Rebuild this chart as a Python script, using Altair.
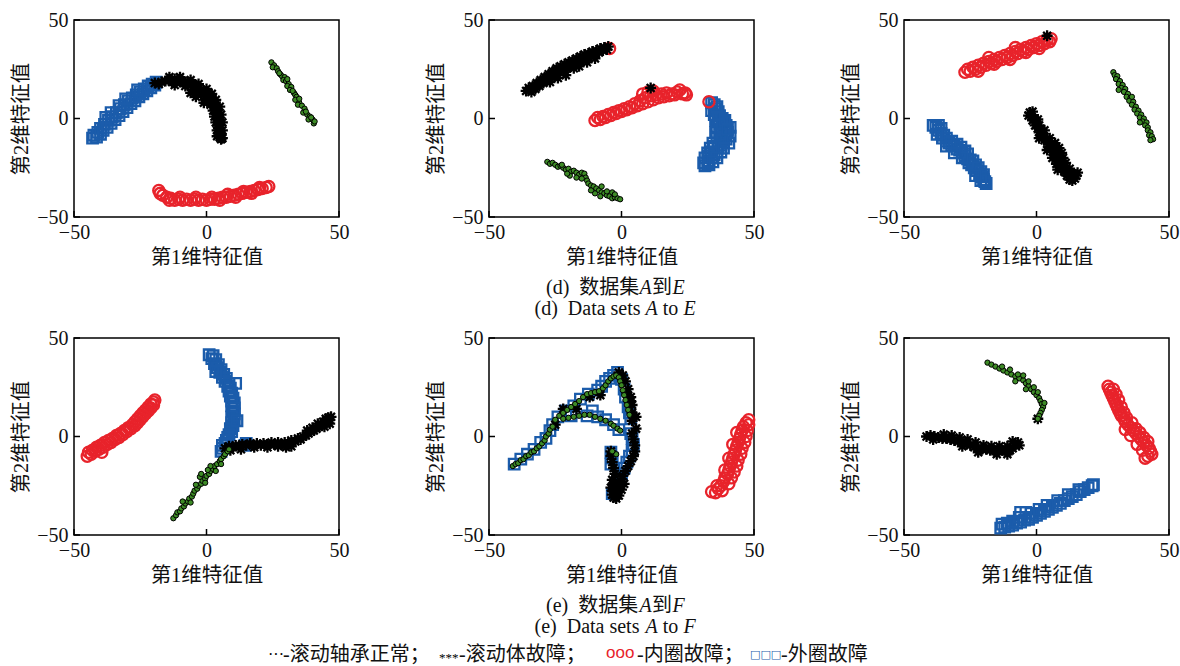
import altair as alt
import pandas as pd

TICKS = [-50, 0, 50]
XTITLE = "第1维特征值"
YTITLE = "第2维特征值"

CAP_D_ZH = ["(d)\u00a0\u00a0数据集", "A", "到", "E"]
CAP_D_EN = ["(d)\u00a0\u00a0Data sets", "A", "to", "E"]
CAP_E_ZH = ["(e)\u00a0\u00a0数据集", "A", "到", "F"]
CAP_E_EN = ["(e)\u00a0\u00a0Data sets", "A", "to", "F"]
LEGEND_SYMBOLS = ["···", "***", "ooo", "□□□"]
LEGEND_TEXTS = ["-滚动轴承正常；", "-滚动体故障；", "-内圈故障；", "-外圈故障"]

# ---- panel 1 (row d, left)
P1_NORMAL = [(24.5,28.5),(25.5,27.0),(25.0,26.0),(26.5,25.5),(27.0,24.0),(27.8,22.5),(28.5,21.5),(29.5,21.0),(29.0,19.5),(30.0,19.0),(31.0,17.5),(30.5,16.5),(32.0,16.0),(31.5,14.5),(33.0,13.0),(33.5,12.0),(34.0,11.0),(33.5,9.5),(35.0,8.0),(34.5,7.0),(36.0,6.5),(37.0,5.0),(36.5,3.0),(38.0,2.0),(39.0,1.0),(38.5,-0.5),(40.0,-0.5),(40.5,-2.5),(39.5,0.5),(35.0,10.0),(30.5,20.0),(27.5,23.0),(32.5,14.0),(37.5,3.5),(40.8,-1.5)]
P1_ROLL = [(-19.5,18.0),(-18.0,17.5),(-17.0,18.5),(-15.5,19.0),(-14.0,19.5),(-13.0,18.5),(-12.0,20.0),(-11.0,19.5),(-10.0,18.5),(-9.0,19.0),(-8.0,18.0),(-7.0,18.5),(-6.0,17.0),(-5.0,17.5),(-4.0,16.0),(-3.0,15.5),(-2.0,14.5),(-1.0,14.0),(0.0,12.5),(0.5,12.0),(1.5,10.5),(2.0,9.5),(2.5,8.0),(3.0,7.0),(3.5,5.5),(4.0,4.0),(4.0,2.5),(4.5,1.0),(4.5,-0.5),(5.0,-2.0),(5.0,-3.5),(4.5,-5.0),(5.0,-6.5),(5.5,-8.0),(5.0,-9.5),(5.5,-10.5),(4.0,-9.0),(4.0,-6.0),(3.5,-2.0),(3.0,1.0),(2.5,4.0),(1.5,7.0),(0.0,10.0),(-2.0,12.0),(-5.0,14.5),(-8.0,16.5),(-12.0,17.0),(-14.0,21.0),(-10.0,21.0),(-6.0,19.5),(-3.0,17.5),(0.0,15.0),(2.0,12.5),(3.5,9.5),(5.0,6.0),(5.5,2.0),(6.0,-2.0),(6.0,-6.0),(6.0,-10.0),(-6.0,13.0),(-4.0,11.0),(-1.0,8.0)]
P1_INNER = [(-18.0,-36.5),(-17.5,-38.0),(-16.5,-39.0),(-15.0,-40.0),(-13.5,-40.5),(-12.0,-41.5),(-10.5,-41.0),(-9.0,-41.5),(-7.5,-41.0),(-6.0,-41.5),(-4.5,-41.0),(-3.0,-41.5),(-1.5,-41.0),(0.0,-41.5),(1.5,-41.0),(3.0,-41.0),(4.5,-40.5),(6.0,-40.0),(7.5,-40.0),(9.0,-39.5),(10.5,-39.0),(12.0,-38.5),(13.5,-38.0),(15.0,-37.5),(16.5,-37.0),(18.0,-36.5),(19.5,-36.0),(21.0,-35.5),(22.5,-35.0),(23.5,-34.5),(-10.0,-40.0),(-4.0,-40.0),(2.0,-40.0),(8.0,-38.5),(14.0,-37.0),(20.0,-35.0),(-14.0,-41.5),(5.0,-41.5),(11.0,-40.0),(17.0,-38.0)]
P1_OUTER = [(-43.0,-10.0),(-42.5,-8.5),(-41.5,-9.5),(-41.0,-7.0),(-40.0,-8.0),(-40.0,-5.0),(-39.0,-6.0),(-38.5,-3.0),(-37.5,-4.5),(-37.0,-1.0),(-36.0,-2.5),(-35.5,1.0),(-34.5,-0.5),(-34.0,3.0),(-33.0,1.5),(-32.5,5.0),(-31.5,3.5),(-31.0,7.0),(-30.0,5.5),(-29.5,9.0),(-28.5,7.5),(-28.0,10.5),(-27.0,9.0),(-26.5,12.0),(-25.5,11.0),(-25.0,13.5),(-24.0,12.5),(-23.5,15.0),(-22.5,14.0),(-22.0,16.5),(-21.0,15.5),(-20.5,17.5),(-19.5,17.0),(-19.0,18.5),(-36.0,3.0),(-33.0,6.5),(-30.5,10.0),(-26.0,14.5),(-38.0,0.5)]

# ---- panel 2 (row d, middle)
P2_NORMAL = [(-28.0,-22.0),(-27.0,-23.0),(-26.0,-22.5),(-25.0,-23.5),(-24.0,-24.5),(-23.0,-24.0),(-22.0,-25.0),(-21.0,-26.0),(-20.0,-25.5),(-19.0,-27.0),(-18.0,-26.5),(-17.0,-27.5),(-16.0,-28.5),(-15.0,-27.5),(-14.0,-28.0),(-13.5,-30.0),(-13.0,-31.5),(-12.5,-33.0),(-11.5,-34.0),(-10.5,-34.5),(-9.5,-35.5),(-8.5,-36.5),(-7.5,-37.5),(-6.5,-38.0),(-5.5,-39.0),(-4.5,-39.5),(-3.5,-40.5),(-2.5,-40.0),(-1.5,-40.5),(-0.5,-41.0),(-19.5,-29.0),(-17.0,-30.0),(-15.0,-30.5),(-10.0,-38.0),(-8.0,-39.5),(-5.5,-37.0),(-3.5,-37.5),(-7.5,-34.5),(-22.5,-23.5),(-20.5,-28.0),(-11.5,-36.5),(-2.5,-38.5)]
P2_ROLL = [(-36.0,14.0),(-35.0,15.5),(-34.0,13.5),(-33.5,16.5),(-32.5,15.0),(-32.0,18.0),(-31.0,16.5),(-30.5,19.5),(-29.5,18.0),(-29.0,21.0),(-28.0,19.5),(-27.5,22.5),(-26.5,21.0),(-26.0,24.0),(-25.0,22.0),(-24.5,25.5),(-23.5,23.5),(-23.0,26.5),(-22.0,24.5),(-21.5,27.5),(-20.5,25.5),(-20.0,28.5),(-19.0,27.0),(-18.5,29.5),(-17.5,28.0),(-17.0,30.5),(-16.0,29.0),(-15.5,31.5),(-14.5,30.0),(-14.0,32.5),(-13.0,31.0),(-12.5,33.0),(-11.5,32.0),(-11.0,34.0),(-10.0,32.5),(-9.5,34.5),(-8.5,33.5),(-8.0,35.5),(-7.0,34.5),(-6.5,36.0),(-5.5,35.0),(-5.0,36.5),(-24.0,20.5),(-18.0,25.5),(-13.0,28.5),(-21.0,22.0),(-16.0,26.5),(-10.0,30.5),(-27.0,18.5),(11.0,15.5)]
P2_INNER = [(-10.0,-1.0),(-9.0,0.5),(-8.0,-0.5),(-7.0,1.0),(-6.0,0.5),(-5.0,2.0),(-4.0,1.5),(-3.0,3.0),(-2.0,2.5),(-1.0,4.0),(0.0,3.5),(1.0,5.0),(2.0,4.5),(3.0,6.0),(4.0,5.5),(5.0,7.5),(6.0,6.5),(7.0,9.0),(8.0,7.5),(9.0,10.5),(10.0,8.5),(11.0,11.5),(12.0,9.5),(13.0,12.0),(14.0,10.5),(15.0,12.5),(16.0,11.0),(17.0,13.0),(18.0,11.5),(19.0,12.5),(20.0,12.0),(21.0,13.5),(22.0,14.5),(23.0,12.5),(24.0,13.0),(24.5,12.0),(8.0,12.5),(10.0,13.5),(12.0,14.0),(-4.5,35.5),(33.0,8.5)]
P2_OUTER = [(34.0,8.0),(35.0,7.0),(35.5,5.0),(36.5,3.5),(37.0,1.5),(38.0,0.0),(38.5,-2.0),(39.5,-3.5),(39.0,-5.5),(40.0,-7.0),(39.0,-8.5),(39.5,-10.5),(38.5,-12.0),(37.5,-13.5),(36.5,-15.0),(36.0,-17.0),(35.0,-18.5),(34.0,-20.0),(33.0,-21.5),(32.5,-23.0),(31.5,-24.0),(35.5,-1.0),(36.0,-4.0),(35.5,-7.0),(36.0,-10.0),(34.5,-12.5),(33.5,-15.0),(32.5,-17.5),(31.5,-20.0),(31.0,-22.5),(37.5,-6.0),(37.0,-9.5),(38.0,-3.0),(34.0,4.0),(41.0,-4.5),(41.0,-9.0),(40.5,-12.5),(37.5,-17.0),(36.5,0.0),(37.0,-3.0),(37.5,-8.0),(38.0,-11.0),(35.0,-14.0),(34.0,-17.0),(33.0,-19.0),(39.0,-1.0),(40.0,-5.5),(38.5,-15.0),(36.0,-20.0),(33.0,-23.5),(34.5,-22.0),(35.0,2.0),(36.0,6.0)]

# ---- panel 3 (row d, right)
P3_NORMAL = [(29.0,23.5),(29.5,22.0),(30.5,21.5),(30.0,20.0),(31.5,19.0),(31.0,17.5),(32.5,17.0),(32.0,15.5),(33.5,15.0),(33.0,13.5),(34.5,12.5),(34.0,11.0),(35.5,10.5),(35.0,9.0),(36.5,8.5),(36.0,7.0),(37.5,6.0),(37.0,4.5),(38.5,4.0),(38.0,2.5),(39.5,2.0),(39.0,0.5),(40.5,0.0),(40.0,-1.5),(41.5,-2.0),(41.0,-3.5),(42.0,-4.5),(42.0,-6.0),(43.0,-7.0),(42.5,-8.5),(43.5,-9.0),(44.0,-10.5),(43.0,-11.0),(31.0,14.5),(36.0,11.0),(39.0,-2.0)]
P3_ROLL = [(4.0,42.0),(-2.5,3.0),(-1.5,3.5),(-3.0,1.5),(-2.0,1.0),(-1.0,0.0),(-1.5,-1.0),(0.0,-2.0),(-0.5,-3.5),(1.0,-3.5),(0.5,-5.0),(1.5,-5.5),(1.0,-7.0),(2.0,-7.5),(2.0,-9.0),(3.0,-9.5),(3.0,-11.0),(4.0,-11.5),(4.5,-13.0),(5.5,-13.5),(5.5,-15.0),(6.5,-15.5),(6.5,-17.0),(7.5,-17.5),(7.5,-19.0),(8.5,-19.5),(8.0,-21.0),(9.0,-21.5),(8.5,-23.0),(9.5,-23.5),(9.5,-25.0),(10.5,-25.5),(10.5,-27.0),(11.5,-27.5),(11.5,-29.0),(12.5,-29.5),(12.5,-31.0),(13.5,-31.5),(14.5,-30.5),(15.0,-29.0),(15.5,-27.5),(14.0,-28.0),(0.5,-0.5),(3.0,-6.0),(5.0,-10.0),(7.0,-12.5),(8.5,-15.0),(9.5,-17.5),(10.0,-20.0),(11.0,-22.5),(12.5,-25.5),(13.5,-28.0),(1.0,-10.0),(4.0,-16.0),(6.0,-20.0),(7.5,-23.0),(8.0,-26.0)]
P3_INNER = [(-27.0,23.5),(-26.0,25.0),(-25.0,24.0),(-24.0,26.0),(-23.0,25.0),(-22.0,27.0),(-21.0,26.0),(-20.0,28.0),(-19.0,27.0),(-18.0,29.0),(-17.0,28.0),(-16.0,30.0),(-15.0,29.0),(-14.0,31.0),(-13.0,30.0),(-12.0,32.0),(-11.0,31.0),(-10.0,33.0),(-9.0,32.0),(-8.0,34.0),(-7.0,33.0),(-6.0,35.0),(-5.0,34.0),(-4.0,36.0),(-3.0,35.0),(-2.0,37.0),(-1.0,36.0),(0.0,38.0),(1.0,37.0),(2.0,39.0),(3.0,38.0),(4.0,40.0),(5.0,39.0),(5.5,40.5),(-22.0,24.0),(-16.0,27.5),(-10.0,30.0),(-4.0,33.5),(1.0,35.5),(-18.0,31.0),(-8.0,36.0)]
P3_OUTER = [(-39.0,-3.5),(-38.0,-4.5),(-37.0,-3.5),(-37.0,-6.0),(-36.0,-5.0),(-36.0,-7.5),(-35.0,-8.5),(-35.5,-10.0),(-34.0,-10.0),(-34.0,-11.5),(-33.0,-12.5),(-32.0,-11.5),(-32.0,-13.5),(-31.0,-14.0),(-30.0,-13.0),(-30.0,-15.5),(-29.0,-16.0),(-28.5,-14.5),(-28.0,-17.5),(-27.0,-16.5),(-27.0,-19.0),(-26.0,-18.0),(-26.0,-20.5),(-25.0,-21.0),(-25.5,-22.5),(-24.5,-23.5),(-24.0,-21.5),(-23.5,-25.0),(-23.0,-23.5),(-22.5,-26.5),(-22.0,-25.0),(-21.5,-28.0),(-21.0,-27.0),(-20.5,-29.5),(-20.0,-28.5),(-20.0,-31.0),(-19.5,-32.0),(-19.0,-33.0),(-21.0,-31.5),(-23.0,-29.0),(-28.0,-20.0),(-31.0,-17.5),(-34.0,-14.0),(-37.5,-8.0)]

# ---- panel 4 (row e, left)
P4_NORMAL = [(-12.5,-41.5),(-11.5,-40.0),(-11.0,-38.5),(-10.0,-38.0),(-9.5,-36.5),(-8.5,-35.5),(-8.0,-34.0),(-7.0,-33.0),(-6.5,-31.5),(-5.5,-30.5),(-5.0,-29.0),(-4.5,-27.5),(-3.5,-26.5),(-3.0,-25.0),(-2.0,-24.0),(-1.5,-22.5),(-0.5,-21.5),(0.0,-20.0),(1.0,-19.0),(1.5,-17.5),(2.5,-16.5),(3.0,-15.0),(4.0,-14.0),(5.0,-12.5),(5.5,-11.5),(6.5,-10.0),(7.0,-9.0),(8.0,-7.5),(8.5,-6.5),(-9.0,-33.0),(-6.0,-33.5),(-4.0,-24.5),(-2.5,-20.5),(-0.5,-23.5),(1.5,-15.0),(3.5,-17.5),(5.5,-14.0),(-2.0,-19.0),(0.5,-17.0)]
P4_ROLL = [(7.0,-6.0),(8.5,-5.0),(10.0,-5.5),(11.0,-4.5),(12.5,-5.0),(13.5,-4.0),(15.0,-4.5),(16.5,-3.5),(17.5,-4.5),(19.0,-3.5),(20.5,-4.5),(21.5,-3.5),(23.0,-4.0),(24.5,-3.0),(25.5,-4.0),(27.0,-3.0),(28.5,-4.0),(29.5,-3.0),(31.0,-3.5),(32.0,-2.0),(33.5,-2.5),(34.5,-1.0),(35.5,-1.5),(36.5,0.0),(37.5,0.5),(38.5,1.5),(39.5,2.5),(40.5,3.0),(41.5,4.0),(42.5,5.0),(43.5,6.0),(44.5,7.0),(45.5,7.5),(46.5,8.5),(47.0,10.0),(46.0,9.5),(45.0,9.0),(44.0,7.5),(42.0,6.5),(40.0,4.5),(38.0,3.0),(32.0,-5.0),(30.0,-5.5),(27.0,-5.0),(23.0,-5.5),(18.0,-5.5),(13.0,-6.5),(9.0,-7.0),(46.5,6.5),(44.5,5.0)]
P4_INNER = [(-45.0,-10.0),(-44.5,-8.0),(-43.5,-9.0),(-43.0,-7.0),(-42.0,-7.5),(-41.5,-5.5),(-40.5,-6.5),(-40.0,-4.5),(-39.0,-5.5),(-38.5,-3.0),(-37.5,-4.0),(-37.0,-2.0),(-36.0,-3.0),(-35.5,-1.0),(-34.5,-1.5),(-34.0,0.5),(-33.0,-0.5),(-32.5,1.5),(-31.5,1.0),(-31.0,3.0),(-30.0,2.5),(-29.5,4.5),(-28.5,4.0),(-28.0,6.0),(-27.0,5.5),(-27.0,7.5),(-26.0,7.0),(-26.0,9.0),(-25.0,8.5),(-25.0,10.5),(-24.0,10.0),(-24.0,12.0),(-23.0,11.5),(-23.0,13.5),(-22.0,13.0),(-22.0,15.0),(-21.0,14.5),(-21.0,16.5),(-20.0,16.0),(-20.0,17.5),(-19.5,18.5),(-39.5,-8.0)]
P4_OUTER = [(1.0,41.5),(2.5,41.0),(2.0,39.5),(3.5,39.0),(3.0,37.0),(4.5,36.5),(4.0,35.0),(5.5,34.0),(5.0,32.5),(6.5,31.5),(6.0,30.0),(7.5,29.5),(7.0,28.0),(8.5,27.0),(8.0,25.5),(9.0,24.5),(8.5,23.0),(9.5,22.0),(9.0,20.5),(10.0,19.5),(9.5,18.0),(10.5,17.0),(9.5,15.5),(10.5,14.5),(10.0,13.0),(10.5,11.5),(9.5,10.0),(10.5,8.5),(9.5,7.0),(10.0,5.5),(9.0,4.0),(9.5,2.5),(8.5,1.0),(8.0,-0.5),(7.5,-2.0),(7.0,-3.5),(6.0,-4.5),(6.0,-6.0),(5.5,-7.5),(11.0,27.0),(11.5,8.0),(3.5,33.0),(15.0,-3.5),(14.5,-4.5)]

# ---- panel 5 (row e, middle)
P5_NORMAL = [(-41.0,-15.0),(-40.0,-14.0),(-39.0,-13.5),(-38.0,-12.0),(-37.0,-11.5),(-36.0,-10.0),(-35.0,-9.5),(-34.0,-8.0),(-33.0,-7.5),(-32.0,-6.0),(-31.0,-5.0),(-30.0,-3.5),(-29.0,-2.0),(-28.5,0.0),(-27.5,1.5),(-27.0,3.5),(-26.0,5.0),(-25.0,8.5),(-23.5,10.5),(-22.0,12.0),(-20.5,13.5),(-19.0,15.0),(-17.5,16.5),(-16.0,18.0),(-14.5,20.0),(-13.0,21.5),(-11.5,22.0),(-10.0,22.5),(-8.5,23.0),(-7.0,24.5),(-6.0,26.0),(-5.0,28.0),(-4.0,29.5),(-3.0,30.5),(-2.0,31.0),(-1.0,30.0),(-0.5,28.0),(0.0,26.0),(0.5,23.5),(1.0,21.0),(1.5,18.5),(2.0,16.0),(2.5,13.5),(3.0,11.0),(-22.0,9.0),(-20.0,9.5),(-18.0,10.0),(-16.0,10.5),(-14.0,11.0),(-12.0,11.0),(-10.0,10.0),(-8.0,9.0),(-6.0,8.0),(-4.0,6.5),(-3.0,5.5),(-1.5,4.0),(-0.5,3.0),(-2.0,-9.0),(-3.5,-7.5)]
P5_ROLL = [(-1.0,32.5),(0.5,31.0),(1.5,28.0),(2.5,24.0),(3.5,20.0),(4.0,16.0),(4.0,12.0),(4.0,8.0),(3.5,18.0),(2.0,22.0),(4.0,1.5),(4.5,-1.5),(5.0,-4.5),(5.0,-7.5),(4.5,-10.0),(3.5,-12.5),(2.5,-15.0),(1.5,-17.5),(0.5,-20.0),(-0.5,-22.5),(-1.5,-25.0),(-2.5,-27.5),(-3.5,-29.5),(-3.0,-31.0),(-2.0,-31.5),(-1.0,-30.0),(0.0,-27.0),(1.0,-24.0),(-4.0,-7.5),(-4.0,-10.0),(-3.5,-13.0),(-3.0,-16.0),(-2.5,-19.0),(-3.5,-22.0),(-4.0,-26.0),(-2.0,-28.5),(-1.0,-26.5),(-3.0,-24.5),(-8.0,21.0),(-12.0,20.0),(-17.0,14.0),(-25.0,6.0),(-22.0,14.0),(5.5,10.0),(5.5,4.0)]
P5_INNER = [(34.0,-28.0),(35.5,-28.5),(36.5,-26.5),(37.5,-25.0),(38.5,-23.0),(39.0,-21.0),(40.0,-19.0),(40.5,-17.0),(41.0,-15.0),(41.5,-13.0),(42.0,-11.0),(42.5,-9.0),(43.0,-7.0),(43.5,-5.0),(44.0,-3.0),(44.5,-1.0),(45.0,1.0),(45.5,3.0),(46.0,5.0),(47.0,7.0),(48.0,8.5),(48.0,6.0),(47.5,3.0),(47.0,0.0),(46.5,-3.0),(45.5,-6.0),(45.0,-9.0),(44.0,-12.0),(43.5,-15.0),(42.5,-18.0),(41.5,-21.0),(40.5,-24.0),(38.0,-27.5),(36.0,-25.0),(39.0,-17.0),(40.5,-11.0),(42.0,-4.0),(43.5,2.0)]
P5_OUTER = [(-40.5,-14.0),(-38.0,-11.5),(-35.5,-9.0),(-33.0,-6.5),(-30.5,-3.0),(-28.5,-1.0),(-27.0,3.0),(-26.0,6.0),(-24.0,10.0),(-21.0,13.0),(-18.0,15.5),(-15.5,19.0),(-12.5,21.5),(-9.0,23.5),(-7.5,25.5),(-6.0,28.0),(-4.5,29.5),(-3.0,31.0),(-1.5,32.5),(0.0,29.0),(1.0,24.0),(1.5,20.0),(2.5,15.0),(3.0,12.0),(3.5,9.0),(-13.0,10.5),(-11.0,13.0),(-9.0,10.0),(-6.0,8.5),(-3.0,6.0),(-1.0,3.5),(-19.0,10.5),(3.5,1.5),(4.0,-1.0),(4.5,-4.0),(4.0,-7.0),(3.0,-10.0),(2.0,-13.0),(1.0,-16.0),(0.0,-19.0),(-1.0,-22.0),(-2.5,-27.0),(-3.5,-29.0),(-4.0,-14.0),(-4.0,-8.0),(-3.5,-11.0)]

# ---- panel 6 (row e, right)
P6_NORMAL = [(-18.5,37.5),(-17.0,36.5),(-15.5,35.5),(-14.0,34.5),(-12.5,33.5),(-11.0,32.5),(-9.5,31.5),(-8.0,30.5),(-6.5,29.5),(-5.0,28.5),(-4.0,27.0),(-3.0,25.5),(-2.0,24.0),(-1.0,22.5),(0.0,21.0),(1.0,19.5),(1.5,18.0),(2.0,16.5),(2.5,15.0),(2.0,13.5),(1.5,12.0),(1.0,10.5),(0.5,9.0),(-13.0,35.5),(-10.0,34.0),(-7.0,31.5),(-5.0,31.0),(-3.0,28.0),(-1.0,25.0),(0.5,22.5),(3.0,17.0),(-8.0,28.0),(-4.0,24.0)]
P6_ROLL = [(-41.5,0.0),(-40.0,0.5),(-38.5,0.0),(-37.0,-0.5),(-35.5,-1.0),(-34.0,-1.0),(-32.5,-1.5),(-31.0,-2.0),(-29.5,-2.5),(-28.0,-3.0),(-26.5,-3.5),(-25.0,-4.5),(-23.5,-5.5),(-22.0,-6.0),(-20.5,-6.5),(-19.0,-6.5),(-17.5,-7.0),(-16.0,-7.0),(-14.5,-7.0),(-13.0,-7.0),(-11.5,-7.5),(-10.0,-7.0),(-9.0,-6.0),(-8.0,-4.5),(-7.0,-3.0),(-6.5,-4.5),(-39.0,-1.5),(-35.0,1.0),(-32.0,0.5),(-29.0,-0.5),(-26.0,-1.5),(-23.0,-3.0),(-20.0,-4.5),(-17.0,-5.0),(-14.0,-5.0),(-11.0,-5.0),(-9.0,-2.5),(-28.0,-5.0),(-22.0,-8.0),(-15.0,-9.0),(-11.0,-9.0),(0.5,9.0)]
P6_INNER = [(27.0,25.5),(27.5,24.0),(28.0,22.5),(28.5,21.0),(29.0,19.5),(29.5,18.0),(30.0,16.5),(30.5,15.0),(31.0,13.5),(31.5,12.0),(32.0,10.5),(33.0,9.0),(33.5,7.5),(34.5,6.0),(35.5,4.5),(36.5,3.0),(37.5,1.5),(38.5,0.0),(39.5,-1.5),(40.5,-3.0),(41.5,-4.5),(42.5,-6.0),(43.0,-7.5),(43.5,-9.0),(42.0,-10.0),(41.0,-11.0),(29.0,24.0),(30.0,21.5),(31.0,18.5),(32.0,15.0),(33.0,12.0),(34.0,9.5),(36.0,7.0),(37.5,4.0),(39.0,2.0),(40.5,-0.5),(42.0,-2.5),(40.0,-7.0),(38.0,-4.0),(35.5,0.5),(33.5,3.5)]
P6_OUTER = [(-13.5,-46.5),(-12.0,-46.0),(-10.5,-45.5),(-9.0,-45.0),(-7.5,-44.0),(-6.0,-43.5),(-4.5,-42.5),(-3.0,-42.0),(-1.5,-41.0),(0.0,-40.0),(1.5,-39.0),(3.0,-38.0),(4.5,-37.0),(6.0,-36.0),(7.5,-35.0),(9.0,-34.0),(10.5,-32.5),(12.0,-31.5),(13.5,-30.5),(15.0,-29.5),(16.5,-28.0),(18.0,-27.0),(19.5,-26.0),(21.0,-25.0),(21.5,-24.5),(-11.0,-44.0),(-6.5,-41.0),(-4.0,-38.5),(-2.0,-39.0),(1.0,-37.0),(4.0,-35.0),(8.0,-32.5),(12.0,-29.5),(16.0,-27.0),(-6.0,-38.5),(-13.0,-44.5),(-9.0,-43.0)]

# ---------------------------------------------------------------- styling
W, H = 265, 197
FONT = "Liberation Serif, Noto Sans CJK SC"
TXT = "#111111"
RED = "#e8232b"
BLUE = "#1b5cab"
GREEN = "#3d8b26"
STAR = "M-1,0H1M0,-1V1M-0.72,-0.72L0.72,0.72M-0.72,0.72L0.72,-0.72"

SC = alt.Scale(domain=[-50, 50], nice=False, zero=False)


def xenc(f="x"):
    return alt.X(f"{f}:Q", scale=SC, axis=alt.Axis(values=TICKS, title=XTITLE))


def yenc(f="y"):
    return alt.Y(f"{f}:Q", scale=SC, axis=alt.Axis(values=TICKS, title=YTITLE))


def df(pts):
    return pd.DataFrame(pts, columns=["x", "y"])


def txt(label, x, y, size=20, color=TXT, style="normal", font=FONT, dy=0):
    return alt.Chart(pd.DataFrame({"t": [label]})).mark_text(
        align="left", baseline="middle", fontSize=size, font=font,
        fontStyle=style, color=color, dy=dy
    ).encode(x=alt.value(x), y=alt.value(y), text="t:N")


def panel(normal, roll, inner, outer, extras=()):
    layers = [
        alt.Chart(df(outer)).mark_point(shape="square", filled=False, color=BLUE,
                                        size=110, strokeWidth=2.3, opacity=1).encode(x=xenc(), y=yenc()),
        alt.Chart(df(inner)).mark_point(shape="circle", filled=False, color=RED,
                                        size=125, strokeWidth=2.3, opacity=1).encode(x=xenc(), y=yenc()),
        alt.Chart(df(roll)).mark_point(shape=STAR, filled=False, color="black",
                                       size=120, strokeWidth=2.3, opacity=1).encode(x=xenc(), y=yenc()),
        alt.Chart(df(normal)).mark_point(shape="circle", filled=True, fill=GREEN, stroke="black",
                                         strokeWidth=1.0, size=28, opacity=1).encode(x=xenc(), y=yenc()),
        alt.Chart(pd.DataFrame({"v": TICKS})).mark_rule(color="black", strokeWidth=1.5).encode(
            x=xenc("v"), y=alt.value(H), y2=alt.value(H - 6)),
        alt.Chart(pd.DataFrame({"v": TICKS})).mark_rule(color="black", strokeWidth=1.5).encode(
            y=yenc("v"), x=alt.value(0), x2=alt.value(6)),
    ]
    layers += list(extras)
    return alt.layer(*layers).properties(width=W, height=H)


def caption(zh, en):
    y1, y2 = H + 71, H + 92
    return [
        txt(zh[0], 57, y1, size=20),
        txt(zh[1], 150.5, y1, size=20, style="italic"),
        txt(zh[2], 163, y1, size=20),
        txt(zh[3], 183.5, y1, size=20, style="italic"),
        txt(en[0], 45.5, y2, size=20),
        txt(en[1], 156.6, y2, size=20, style="italic"),
        txt(en[2], 173.8, y2, size=20),
        txt(en[3], 194.4, y2, size=20, style="italic"),
    ]


def legend():
    yl = H + 120
    return [
        txt(LEGEND_SYMBOLS[0], -221, yl, size=16, color="black"),
        txt(LEGEND_TEXTS[0], -206, yl, size=20),
        txt(LEGEND_SYMBOLS[1], -50, yl, size=13, color="black", dy=3),
        txt(LEGEND_TEXTS[1], -30, yl, size=20),
        txt(LEGEND_SYMBOLS[2], 117, yl, size=17, color=RED, font="Liberation Sans", dy=-2),
        txt(LEGEND_TEXTS[2], 148, yl, size=20),
        txt(LEGEND_SYMBOLS[3], 261, yl, size=11, color=BLUE, font="DejaVu Sans"),
        txt(LEGEND_TEXTS[3], 292, yl, size=20),
    ]


p1 = panel(P1_NORMAL, P1_ROLL, P1_INNER, P1_OUTER)
p2 = panel(P2_NORMAL, P2_ROLL, P2_INNER, P2_OUTER, caption(CAP_D_ZH, CAP_D_EN))
p3 = panel(P3_NORMAL, P3_ROLL, P3_INNER, P3_OUTER)
p4 = panel(P4_NORMAL, P4_ROLL, P4_INNER, P4_OUTER)
p5 = panel(P5_NORMAL, P5_ROLL, P5_INNER, P5_OUTER, caption(CAP_E_ZH, CAP_E_EN) + legend())
p6 = panel(P6_NORMAL, P6_ROLL, P6_INNER, P6_OUTER)

chart = alt.concat(
    p1, p2, p3, p4, p5, p6, columns=3,
    spacing={"row": 121, "column": 150}, bounds="flush"
).properties(
    padding={"left": 10, "top": 9, "right": 0, "bottom": 0},
    background="white",
).configure_axis(
    labelFont="Liberation Serif", labelFontSize=20, labelColor=TXT, labelFlush=False,
    labelPadding=5, titleFont=FONT, titleFontSize=20.5, titleFontWeight="normal",
    titleColor=TXT, titlePadding=5, ticks=False, domain=False, grid=False,
).configure_axisY(
    labelPadding=6,
).configure_view(
    stroke="black", strokeWidth=1.5,
)

chart.save("out.html", embed_options={"renderer": "svg", "actions": False})
